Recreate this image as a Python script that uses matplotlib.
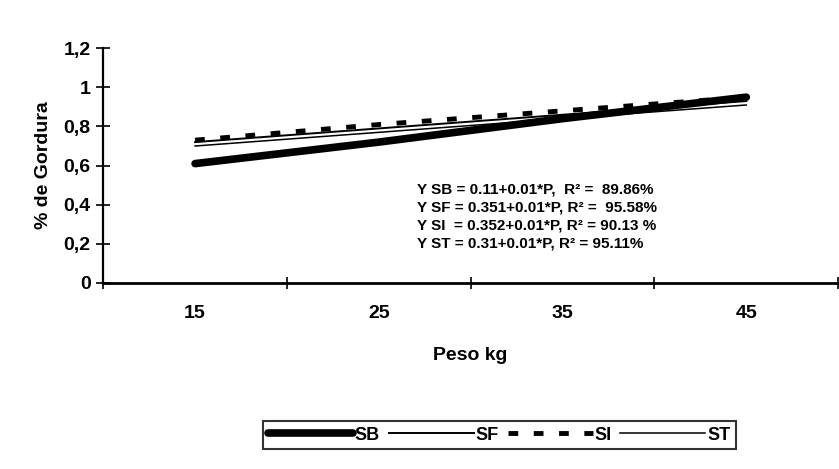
import numpy as np
import matplotlib.pyplot as plt
from matplotlib.lines import Line2D

# data
peso = ['15', '25', '35', '45']
sb = [0.61, 0.72, 0.84, 0.95]
sf = [0.72, 0.79, 0.86, 0.93]
si = [0.73, 0.81, 0.88, 0.95]
st = [0.70, 0.77, 0.84, 0.91]
y_ticks = [0, 0.2, 0.4, 0.6, 0.8, 1.0, 1.2]
y_labels = ['0', '0,2', '0,4', '0,6', '0,8', '1', '1,2']
equations = ['Y SB = 0.11+0.01*P,  R² =  89.86%',
             'Y SF = 0.351+0.01*P, R² =  95.58%',
             'Y SI  = 0.352+0.01*P, R² = 90.13 %',
             'Y ST = 0.31+0.01*P, R² = 95.11%']

plt.rcParams['font.family'] = ['Liberation Sans', 'DejaVu Sans']
plt.rcParams['font.weight'] = 'bold'

fig = plt.figure(figsize=(8.39, 4.69), dpi=100)
ax = fig.add_axes([0.123, 0.397, 0.876, 0.50])

x = np.arange(len(peso))
ax.plot(x, sb, color='black', lw=5.5, solid_capstyle='round', label='SB')
ax.plot(x, sf, color='black', lw=1.4, label='SF')
ax.plot(x, si, color='black', lw=3.5, ls=(0, (2, 3.2)), label='SI')
ax.plot(x, st, color='black', lw=1.1, label='ST')

ax.set_xlim(-0.5, 3.45)
ax.set_ylim(0, 1.2)
ax.set_xticks(np.arange(-0.5, 4, 1))
ax.set_xticklabels([])
ax.set_xticks(x, minor=True)
ax.set_xticklabels(peso, minor=True, fontsize=14, fontweight='bold')
ax.tick_params(axis='x', which='minor', length=0, pad=16)
ax.tick_params(axis='x', which='major', direction='inout', length=9, width=1.2)
ax.set_yticks(y_ticks)
ax.set_yticklabels(y_labels, fontsize=14, fontweight='bold')
ax.tick_params(axis='y', direction='inout', length=10, width=1.2, pad=4)

for side in ['top', 'right']:
    ax.spines[side].set_visible(False)
ax.spines['left'].set_linewidth(1.6)
ax.spines['bottom'].set_linewidth(2)

ax.set_ylabel('% de Gordura', fontsize=14, fontweight='bold', labelpad=8)
ax.set_xlabel('Peso kg', fontsize=14, fontweight='bold', labelpad=18)

for i, eq in enumerate(equations):
    ax.text(1.21, 0.455 - i * 0.092, eq, fontsize=11, fontweight='bold')

handles = [Line2D([], [], color='black', lw=5.5, solid_capstyle='round'),
           Line2D([], [], color='black', lw=1.4),
           Line2D([], [], color='black', lw=3.5, ls=(0, (2, 3.2))),
           Line2D([], [], color='black', lw=1.1)]
leg = fig.legend(handles, ['SB', 'SF', 'SI', 'ST'], loc='center',
                 bbox_to_anchor=(0.595, 0.072), ncol=4, frameon=True,
                 fancybox=False, edgecolor='black', handlelength=4.7,
                 handletextpad=0.1, columnspacing=0.5, borderpad=0.3,
                 prop={'size': 13, 'weight': 'bold'})
leg.get_frame().set_linewidth(1.5)

plt.savefig('out.png', dpi=100)
